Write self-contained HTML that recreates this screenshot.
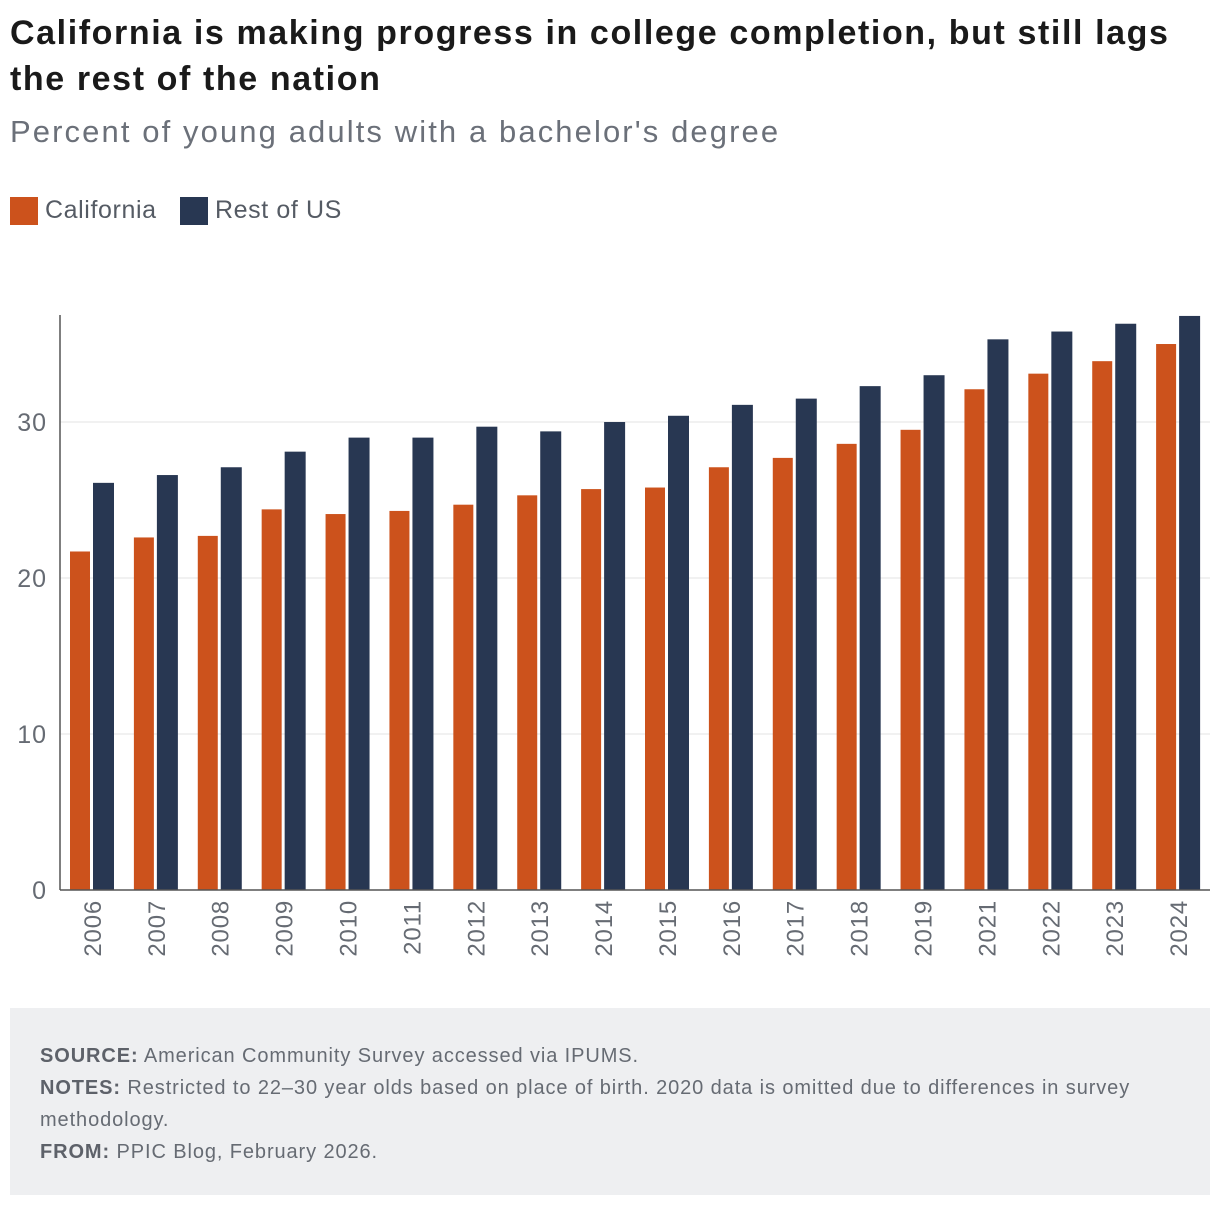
<!DOCTYPE html>
<html><head><meta charset="utf-8"><style>
body{margin:0;width:1220px;height:1208px;background:#fff;font-family:"Liberation Sans",sans-serif;position:relative;overflow:hidden}
#title{position:absolute;left:10px;top:10px;width:1210px;font-size:34px;font-weight:bold;color:#1a1a1a;line-height:46px;letter-spacing:1.6px;white-space:nowrap}
#sub{position:absolute;left:10px;top:114px;font-size:31px;color:#6b7079;letter-spacing:2.1px}
.leg{position:absolute;top:196px;font-size:25px;color:#555b64;display:flex;align-items:center;letter-spacing:0.6px}
.sw{width:28px;height:28px;margin-right:7px}
#foot{position:absolute;left:10px;top:1008px;width:1200px;height:187px;background:#eeeff1;font-size:20px;color:#666b73;box-sizing:border-box;padding:32px 30px;line-height:32px;letter-spacing:0.9px;white-space:nowrap}
#foot b{color:#5d6169}
</style></head><body>
<div id="title">California is making progress in college completion, but still lags<br>the rest of the nation</div>
<div id="sub">Percent of young adults with a bachelor's degree</div>
<div class="leg" style="left:10px"><div class="sw" style="background:#cc521c"></div>California</div>
<div class="leg" style="left:180px"><div class="sw" style="background:#283752"></div>Rest of US</div>
<svg id="chart" width="1220" height="1000" style="position:absolute;left:0;top:0"></svg>
<div id="foot"><b>SOURCE:</b> American Community Survey accessed via IPUMS.<br><b>NOTES:</b> Restricted to 22–30 year olds based on place of birth. 2020 data is omitted due to differences in survey<br>methodology.<br><b>FROM:</b> PPIC Blog, February 2026.</div>
<script>
const years=["2006","2007","2008","2009","2010","2011","2012","2013","2014","2015","2016","2017","2018","2019","2021","2022","2023","2024"];
const california=[21.7,22.6,22.7,24.4,24.1,24.3,24.7,25.3,25.7,25.8,27.1,27.7,28.6,29.5,32.1,33.1,33.9,35.0];
const restOfUS=[26.1,26.6,27.1,28.1,29.0,29.0,29.7,29.4,30.0,30.4,31.1,31.5,32.3,33.0,35.3,35.8,36.3,36.8];
const yTicks=[0,10,20,30];
const svg=document.getElementById('chart');const NS='http://www.w3.org/2000/svg';
const x0=60,x1=1210,y0=890,yMax=36.86,yTop=315;
const y=v=>y0-(v/yMax)*(y0-yTop);
const gw=(x1-x0)/years.length;
function mk(t,a){const e=document.createElementNS(NS,t);for(const k in a)e.setAttribute(k,a[k]);svg.appendChild(e);return e;}
yTicks.forEach(t=>{
 if(t>0){const g=mk('line',{x1:x0,x2:x1,y1:y(t),y2:y(t),stroke:'#e3e3e3','stroke-width':1});
 
 }
 const l=mk('text',{x:47,y:y(t)+9,'text-anchor':'end','font-size':25,fill:'#666b73','font-family':'Liberation Sans, sans-serif','letter-spacing':1});l.textContent=t;
 
 
});
years.forEach((yr,i)=>{
 const gx=x0+i*gw;
 const a=mk('rect',{x:gx+10,y:y(california[i]),width:20,height:y0-y(california[i]),fill:'#cc521c'});
 
 
 const b=mk('rect',{x:gx+33,y:y(restOfUS[i]),width:21,height:y0-y(restOfUS[i]),fill:'#283752'});
 
 
 const cx=gx+gw/2+9;
 const t=mk('text',{x:0,y:0,transform:`translate(${cx},900) rotate(-90)`,'text-anchor':'end','font-size':24,fill:'#666b73','font-family':'Liberation Sans, sans-serif','letter-spacing':0.8});t.textContent=yr;
 
 
});
const ax=mk('line',{x1:x0,x2:x0,y1:yTop,y2:y0,stroke:'#555','stroke-width':1.5});


const bx=mk('line',{x1:x0,x2:x1,y1:y0,y2:y0,stroke:'#555','stroke-width':1.5});


</script>
</body></html>
